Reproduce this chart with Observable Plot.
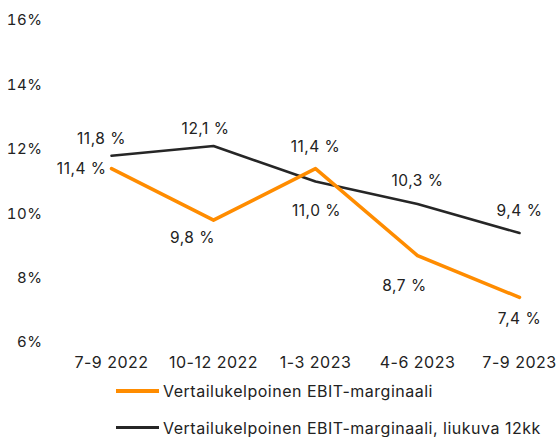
<!DOCTYPE html>
<html><head><meta charset="utf-8">
<script src="https://cdn.jsdelivr.net/npm/d3@7"></script>
<script src="https://cdn.jsdelivr.net/npm/@observablehq/plot@0.6"></script>
<style>
body{margin:0;background:#fff;font-family:Inter,"Noto Sans",sans-serif;color:#222;}
#legend{padding-left:116px;font-size:16px;letter-spacing:0.5px;}
.row{height:37px;display:flex;align-items:center;}
.sw{display:inline-block;width:43px;margin-right:4px;}
svg text{letter-spacing:0.5px;}
</style></head><body><div id="chart"></div><div id="legend"></div>
<script>
const quarters = ["7-9 2022", "10-12 2022", "1-3 2023", "4-6 2023", "7-9 2023"];
const ebitMargin = [11.4, 9.8, 11.4, 8.7, 7.4];
const ebitMarginRolling = [11.8, 12.1, 11.0, 10.3, 9.4];
const yTicks = [6, 8, 10, 12, 14, 16];
const seriesNames = ["Vertailukelpoinen EBIT-marginaali", "Vertailukelpoinen EBIT-marginaali, liukuva 12kk"];

const colors = ["#FF8C00", "#262626"];
const widths = [3.5, 2.6];
// label placement [dx, dy, textAnchor] for each point of each series
const placement = [
  [[-5, 0, "end"], [-21, 18, "middle"], [0, -22, "middle"], [-13, 30, "middle"], [0, 22, "middle"]],
  [[-10, -17, "middle"], [-8, -17, "middle"], [1, 30, "middle"], [0, -23, "middle"], [0, -22, "middle"]]
];

const seriesValues = [ebitMargin, ebitMarginRolling];
const rows = seriesValues.flatMap((vals, s) => vals.map((v, i) => ({q: quarters[i], v, s, i})));
const fmt = v => v.toFixed(1).replace(".", ",") + " %";

const labelMarks = rows.map(r => {
  const [dx, dy, anchor] = placement[r.s][r.i];
  return Plot.text([r], {x: "q", y: "v", text: d => fmt(d.v), dx, dy, textAnchor: anchor, fill: "#222", fontSize: 15.5});
});

const chart = Plot.plot({
  width: 558, height: 372,
  marginLeft: 111, marginRight: 39, marginTop: 20, marginBottom: 30,
  style: {fontSize: "15px", fontFamily: "Inter, 'Noto Sans', sans-serif", color: "#222", background: "#fff"},
  x: {type: "point", domain: quarters, padding: 0, axis: null},
  y: {domain: [6, 16], axis: null},
  marks: [
    Plot.axisX({tickSize: 0, tickPadding: 14, fontSize: 16, label: null}),
    Plot.axisY({ticks: yTicks, tickFormat: d => d + "%", tickSize: 0, tickPadding: 69, fontSize: 15, label: null}),
    ...seriesValues.map((vals, s) => Plot.line(rows.filter(r => r.s === s), {x: "q", y: "v", stroke: colors[s], strokeWidth: widths[s], strokeLinejoin: "round"})).reverse(),
    ...labelMarks
  ]
});
document.getElementById("chart").append(chart);

const legend = document.getElementById("legend");
seriesNames.forEach((name, s) => {
  const row = document.createElement("div");
  row.className = "row";
  const sw = document.createElement("span");
  sw.className = "sw";
  sw.style.height = (s === 0 ? 4 : 3) + "px";
  sw.style.background = colors[s];
  row.append(sw, document.createTextNode(name));
  legend.append(row);
});
</script></body></html>
